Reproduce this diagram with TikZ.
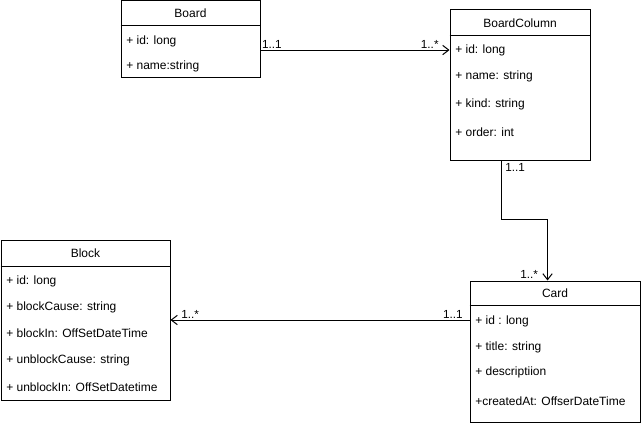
\documentclass[tikz,border=0pt]{standalone}
\usepackage{fontspec}
\setmainfont{Liberation Sans}
\usetikzlibrary{arrows.meta, positioning, fit, calc}

\tikzset{
  classbox/.style={draw, line width=0.75pt, inner sep=0pt},
  classname/.style={font=\fontsize{9}{11}\selectfont},
  attr/.style={anchor=west, inner sep=0pt, yshift=-1.2pt, font=\fontsize{9}{11}\selectfont},
  mult/.style={inner sep=1pt, font=\fontsize{8.8}{11}\selectfont},
  assoc/.style={draw, line width=0.75pt, -{Straight Barb[length=4.5pt, width=7pt, line width=0.75pt]}}
}

\begin{document}
\begin{tikzpicture}[x=0.75pt, y=-0.75pt]
  \useasboundingbox (0,0) rectangle (641,424);

  % class boxes
  \node[classbox, fit={(121,1) (260,78)}] (board) {};
  \node[classbox, fit={(450,10) (590,160)}] (bcol) {};
  \node[classbox, fit={(1,240) (170,400)}] (block) {};
  \node[classbox, fit={(470,281) (640,422)}] (card) {};

  % headers
  \foreach \cls/\hy/\name in {board/26/Board, bcol/36/BoardColumn, block/266/Block, card/305/Card}{
    \draw[line width=0.75pt] (\cls.west |- 0,\hy) -- (\cls.east |- 0,\hy);
    \node[classname] at ($(\cls.north)!0.5!(\cls.north |- 0,\hy)$) {\name};
  }

  % attributes
  \foreach \y/\t in {40/{+ id: long}, 65/{+ name:string}}
    \node[attr] at (126,\y) {\t};
  \foreach \y/\t in {49/{+ id: long}, 75/{+ name: string}, 103/{+ kind: string}, 131/{+ order: int}}
    \node[attr] at (455,\y) {\t};
  \foreach \y/\t in {280/{+ id: long}, 306/{+ blockCause: string}, 332/{+ blockIn: OffSetDateTime}, 359/{+ unblockCause: string}, 386/{+ unblockIn: OffSetDatetime}}
    \node[attr] at (6,\y) {\t};
  \foreach \y/\t in {320/{+ id : long}, 346/{+ title: string}, 371/{+ descriptiion}, 400/{+createdAt: OffserDateTime}}
    \node[attr] at (475,\y) {\t};

  % associations
  \coordinate (boardout) at ([yshift=-7.9pt]board.east);
  \draw[assoc] (boardout) -- (boardout -| bcol.west);
  \node[mult, anchor=south west] at (boardout) {1..1};
  \node[mult, anchor=south east] at ([xshift=-7pt]boardout -| bcol.west) {1..*};

  \coordinate (bcolout) at ([xshift=-14.25pt]bcol.south);
  \coordinate (cardin) at ([xshift=-5.6pt]card.north);
  \draw[assoc] (bcolout) -- (bcolout |- 0,219) -| (cardin);
  \node[mult, anchor=north west] at ([xshift=2pt,yshift=-1pt]bcolout) {1..1};
  \node[mult, anchor=south east] at ([xshift=-6pt]cardin) {1..*};

  \coordinate (cardout) at (card.west |- block.east);
  \draw[assoc] (cardout) -- (block.east);
  \node[mult, anchor=south east] at ([xshift=-4pt]cardout) {1..1};
  \node[mult, anchor=south west] at ([xshift=7pt]block.east) {1..*};
\end{tikzpicture}
\end{document}
